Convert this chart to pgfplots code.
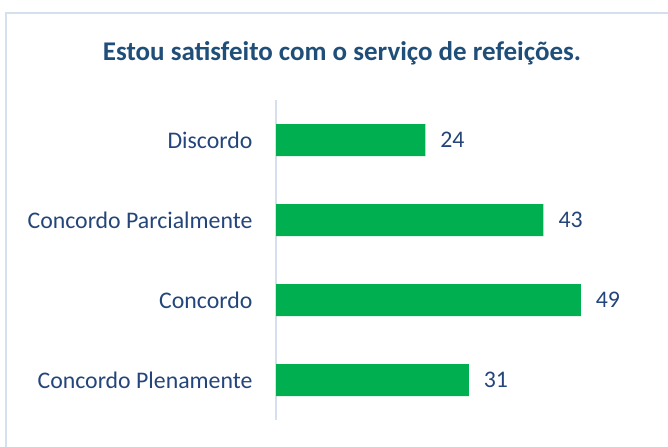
\documentclass[border=0pt]{standalone}
\usepackage{pgfplots}
\pgfplotsset{compat=1.18}
\usepackage{fontspec}
\setmainfont{Carlito}
\definecolor{barGreen}{HTML}{00B050}
\definecolor{titleInk}{HTML}{1F4E79}
\definecolor{labelInk}{HTML}{24457A}
\definecolor{frameLine}{HTML}{D6DFEE}
\begin{document}
\begin{tikzpicture}
\useasboundingbox (0,0) rectangle (334pt,223pt);
\begin{scope}
\clip (0,0) rectangle (334pt,223pt);
\draw[frameLine, line width=0.8pt] (3pt,-5pt) -- (3pt,216.5pt) -- (340pt,216.5pt);
\end{scope}
\node[font=\bfseries\fontsize{13.5}{16}\selectfont, text=titleInk] at (171pt,196.5pt)
  {Estou satisfeito com o serviço de refeições.};
\begin{axis}[
  at={(138pt,13pt)}, anchor=south west,
  scale only axis, width=155.5pt, height=160pt,
  xbar, bar width=16pt,
  xmin=0, xmax=50, ymin=-0.5, ymax=3.5,
  ytick={0,1,2,3},
  yticklabels={Concordo Plenamente,Concordo,Concordo Parcialmente,Discordo},
  xtick=\empty,
  axis x line=none,
  axis y line*=left,
  y axis line style={frameLine, line width=0.8pt, -},
  tick style={draw=none},
  yticklabel style={font=\fontsize{11.9}{14}\selectfont, text=labelInk, xshift=-4pt},
  nodes near coords,
  every node near coord/.append style={font=\fontsize{11.9}{14}\selectfont, text=labelInk,
    xshift=4pt, /pgf/number format/assume math mode=true},
  clip=false]
\addplot[fill=barGreen, draw=none] coordinates
  {(31,0) (49,1) (43,2) (24,3)};
\end{axis}
\end{tikzpicture}
\end{document}
